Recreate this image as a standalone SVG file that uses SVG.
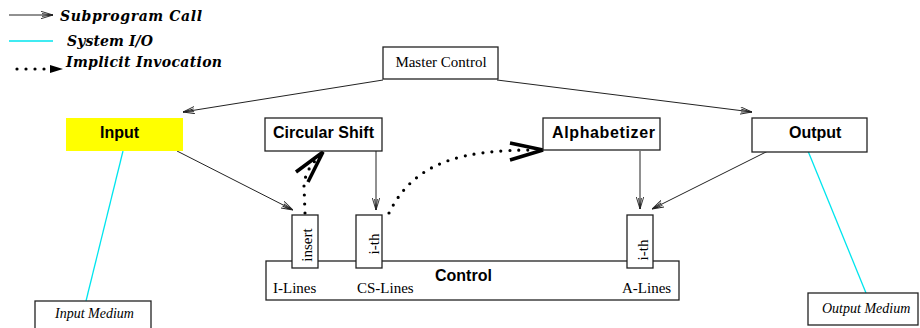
<svg xmlns="http://www.w3.org/2000/svg" width="920" height="328" viewBox="0 0 920 328">
<style>
.box{fill:#fff;stroke:#222;stroke-width:1.3}
.line{stroke:#222;stroke-width:1;fill:none}
.cyan{stroke:#00e5ee;stroke-width:1.3;fill:none}
.dot{stroke:#000;stroke-width:3.2;stroke-linecap:round;stroke-dasharray:0 9;fill:none}
.head{stroke:#000;stroke-width:3.5;fill:none;stroke-linecap:butt}
.lbl{font-family:"Liberation Sans",Arial,sans-serif;font-weight:bold;font-size:16px;fill:#000}
.ser{font-family:"Liberation Serif","Times New Roman",serif;font-size:15px;fill:#000}
.leg{font-family:"DejaVu Serif","Liberation Serif",serif;font-weight:bold;font-style:italic;font-size:14px;fill:#000}
.med{font-family:"Liberation Serif","Times New Roman",serif;font-style:italic;font-size:14px;fill:#000}
</style>
<defs>
<marker id="open" viewBox="0 0 12 8" refX="12" refY="4" markerWidth="12" markerHeight="8" markerUnits="userSpaceOnUse" orient="auto">
<path d="M0,0.3 L12,4 L0,7.7 M1,2.6 L12,4 L1,5.4" fill="none" stroke="#222" stroke-width="0.9"/>
</marker>
</defs>

<g id="legend">
<line x1="9" y1="15" x2="53" y2="15" class="line" marker-end="url(#open)"/>
<text x="60" y="21" class="leg" textLength="142">Subprogram Call</text>
<line x1="9" y1="41" x2="53" y2="41" class="cyan"/>
<text x="67" y="46" class="leg" textLength="86">System I/O</text>
<line x1="17" y1="69" x2="50" y2="69" class="dot" stroke-dasharray="0 5"/>
<polygon points="50,65 63,69 50,73" fill="#000"/>
<text x="66" y="67" class="leg" textLength="156">Implicit Invocation</text>
</g>

<g id="connectors">
<line x1="383" y1="80" x2="183" y2="112" class="line" marker-end="url(#open)"/>
<line x1="497" y1="80" x2="752" y2="112" class="line" marker-end="url(#open)"/>
<line x1="177" y1="151" x2="293" y2="210" class="line" marker-end="url(#open)"/>
<line x1="376" y1="151" x2="376" y2="210" class="line" marker-end="url(#open)"/>
<line x1="640" y1="151" x2="640" y2="209" class="line" marker-end="url(#open)"/>
<line x1="768" y1="151" x2="652" y2="209" class="line" marker-end="url(#open)"/>
<line x1="123" y1="151" x2="86" y2="301" class="cyan"/>
<line x1="808" y1="151" x2="866" y2="293" class="cyan"/>
<path d="M305,213 L304,186 Q305,170 318,158" class="dot"/>
<path d="M296,172 L323,152 L308,182" class="head"/>
<path d="M389,213 C415,160 465,150 535,150" class="dot"/>
<path d="M510,143 L543,150 L510,160" class="head"/>
</g>

<g id="master-control">
<rect x="383" y="47" width="115" height="32" class="box"/>
<text x="441" y="67" class="ser" text-anchor="middle">Master Control</text>
</g>

<g id="input">
<rect x="66" y="118" width="117" height="33" fill="#ffff00"/>
<text x="100" y="138" class="lbl">Input</text>
</g>

<g id="circular-shift">
<rect x="265" y="118" width="117" height="33" class="box"/>
<text x="273" y="138" class="lbl" textLength="101">Circular Shift</text>
</g>

<g id="alphabetizer">
<rect x="543" y="118" width="117" height="32" class="box"/>
<text x="552" y="138" class="lbl" textLength="103">Alphabetizer</text>
</g>

<g id="output">
<rect x="752" y="118" width="115" height="34" class="box"/>
<text x="789" y="138" class="lbl">Output</text>
</g>

<g id="control">
<rect x="266" y="261" width="413" height="39" class="box"/>
<text x="435" y="281" class="lbl">Control</text>
<text x="273" y="293" class="ser">I-Lines</text>
<text x="357" y="293" class="ser">CS-Lines</text>
<text x="622" y="293" class="ser">A-Lines</text>
</g>

<g id="insert">
<rect x="292" y="215" width="26" height="53" class="box"/>
<text transform="translate(312,245) rotate(-90)" class="ser" text-anchor="middle">insert</text>
</g>

<g id="cs-ith">
<rect x="356" y="215" width="26" height="53" class="box"/>
<text transform="translate(379,244) rotate(-90)" class="ser" text-anchor="middle">i-th</text>
</g>

<g id="a-ith">
<rect x="627" y="215" width="26" height="53" class="box"/>
<text transform="translate(648,250) rotate(-90)" class="ser" text-anchor="middle">i-th</text>
</g>

<g id="input-medium">
<rect x="35" y="301" width="116" height="34" class="box"/>
<text x="55" y="318" class="med">Input Medium</text>
</g>

<g id="output-medium">
<rect x="808" y="293" width="110" height="32" class="box"/>
<text x="822" y="313" class="med">Output Medium</text>
</g>
</svg>
